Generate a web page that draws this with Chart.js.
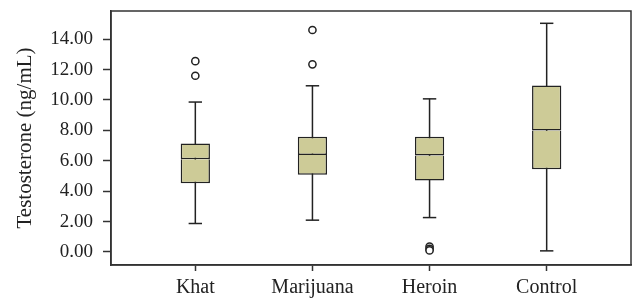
<!DOCTYPE html>
<html>
<head>
<meta charset="utf-8">
<script src="https://cdn.jsdelivr.net/npm/chart.js@4/dist/chart.umd.min.js"></script>
<style>
  html, body { margin: 0; padding: 0; background: #fff; }
  #wrap { width: 633px; height: 299px; }
</style>
</head>
<body>
<div id="wrap"><canvas id="chart"></canvas></div>
<script>
// groups and five-number summaries
const groups = ['Khat', 'Marijuana', 'Heroin', 'Control']
const lowWhisker = [1.87, 2.09, 2.26, 0.07]
const q1 = [4.52, 5.07, 4.70, 5.44]
const median = [6.10, 6.37, 6.35, 7.99]
const q3 = [7.14, 7.57, 7.57, 10.95]
const highWhisker = [9.86, 10.93, 10.07, 15.04]
// outliers per group
const outliers = [[12.55, 11.59], [14.6, 12.34], [0.35, 0.2, 0.1], []]
const yTicks = [0, 2, 4, 6, 8, 10, 12, 14]

const boxFill = '#cdcb97'
const ink = '#222'

let pos = groups.map((g, i) => i + 1)

let whiskerLine = []
pos.forEach((x, i) => {
    whiskerLine.push({x: x, y: lowWhisker[i]})
    whiskerLine.push({x: x, y: highWhisker[i]})
    whiskerLine.push({x: x, y: null})
})
let caps = []
pos.forEach((x, i) => {
    caps.push({x: x, y: lowWhisker[i]})
    caps.push({x: x, y: highWhisker[i]})
})
let outlierPts = []
pos.forEach((x, i) => outliers[i].forEach(v => outlierPts.push({x: x, y: v})))

// frame around the plot area (top and right sides too)
const frame = {
    id: 'frame',
    afterDraw(chart) {
        const a = chart.chartArea
        const ctx = chart.ctx
        ctx.save()
        ctx.strokeStyle = '#333'
        ctx.lineWidth = 1.5
        ctx.strokeRect(a.left, a.top, a.right - a.left, a.bottom - a.top)
        ctx.restore()
    }
}

let ctx = document.getElementById('chart').getContext('2d')

let chart = new Chart(ctx, {
    type: 'bar',
    data: {
        datasets: [
            {
                type: 'line',
                data: whiskerLine,
                borderColor: ink,
                borderWidth: 1.5,
                pointRadius: 0,
                spanGaps: false,
                order: 5
            },
            {
                type: 'scatter',
                data: caps,
                pointStyle: 'line',
                pointRadius: 6.7,
                borderColor: ink,
                borderWidth: 1.5,
                order: 4
            },
            {
                data: pos.map((x, i) => ({x: x, y: [q1[i], median[i]]})),
                backgroundColor: boxFill,
                borderColor: ink,
                borderWidth: 1.5,
                borderSkipped: 'top',
                grouped: false,
                order: 2
            },
            {
                data: pos.map((x, i) => ({x: x, y: [median[i], q3[i]]})),
                backgroundColor: boxFill,
                borderColor: ink,
                borderWidth: 1.5,
                borderSkipped: false,
                grouped: false,
                order: 1
            },
            {
                type: 'scatter',
                data: outlierPts,
                pointStyle: 'circle',
                pointRadius: 3.6,
                backgroundColor: '#fff',
                borderColor: ink,
                borderWidth: 1.5,
                order: 0
            }
        ]
    },
    options: {
        responsive: true,
        maintainAspectRatio: false,
        animation: false,
        categoryPercentage: 1,
        barPercentage: 0.25,
        layout: {autoPadding: false, padding: {top: 11, right: 2, left: 0, bottom: 0}},
        plugins: {legend: {display: false}, tooltip: {enabled: false}},
        scales: {
            x: {
                type: 'linear',
                offset: false,
                min: 0.28,
                max: 4.72,
                afterBuildTicks: s => { s.ticks = pos.map(v => ({value: v})) },
                afterFit: s => { s.height = 34; s.paddingLeft = 0; s.paddingRight = 0 },
                ticks: {
                    callback: v => groups[v - 1],
                    color: '#222',
                    padding: 5,
                    maxRotation: 0,
                    font: {family: 'Liberation Serif', size: 20}
                },
                grid: {offset: false, drawOnChartArea: false, drawTicks: true, tickLength: 6, color: '#333', tickWidth: 1.5},
                border: {color: '#333', width: 1.5}
            },
            y: {
                min: -0.86,
                max: 15.85,
                afterBuildTicks: s => { s.ticks = yTicks.map(v => ({value: v})) },
                afterFit: s => { s.width = 111; s.paddingTop = 0; s.paddingBottom = 0 },
                title: {
                    display: true,
                    text: 'Testosterone (ng/mL)',
                    color: '#222',
                    padding: {top: 13, bottom: 0},
                    font: {family: 'Liberation Serif', size: 21}
                },
                ticks: {
                    callback: v => v.toFixed(2),
                    color: '#222',
                    padding: 10,
                    font: {family: 'Liberation Serif', size: 19}
                },
                grid: {drawOnChartArea: false, drawTicks: true, tickLength: 8, color: '#333', tickWidth: 1.5},
                border: {color: '#333', width: 1.5}
            }
        }
    },
    plugins: [frame]
})
</script>
</body>
</html>
